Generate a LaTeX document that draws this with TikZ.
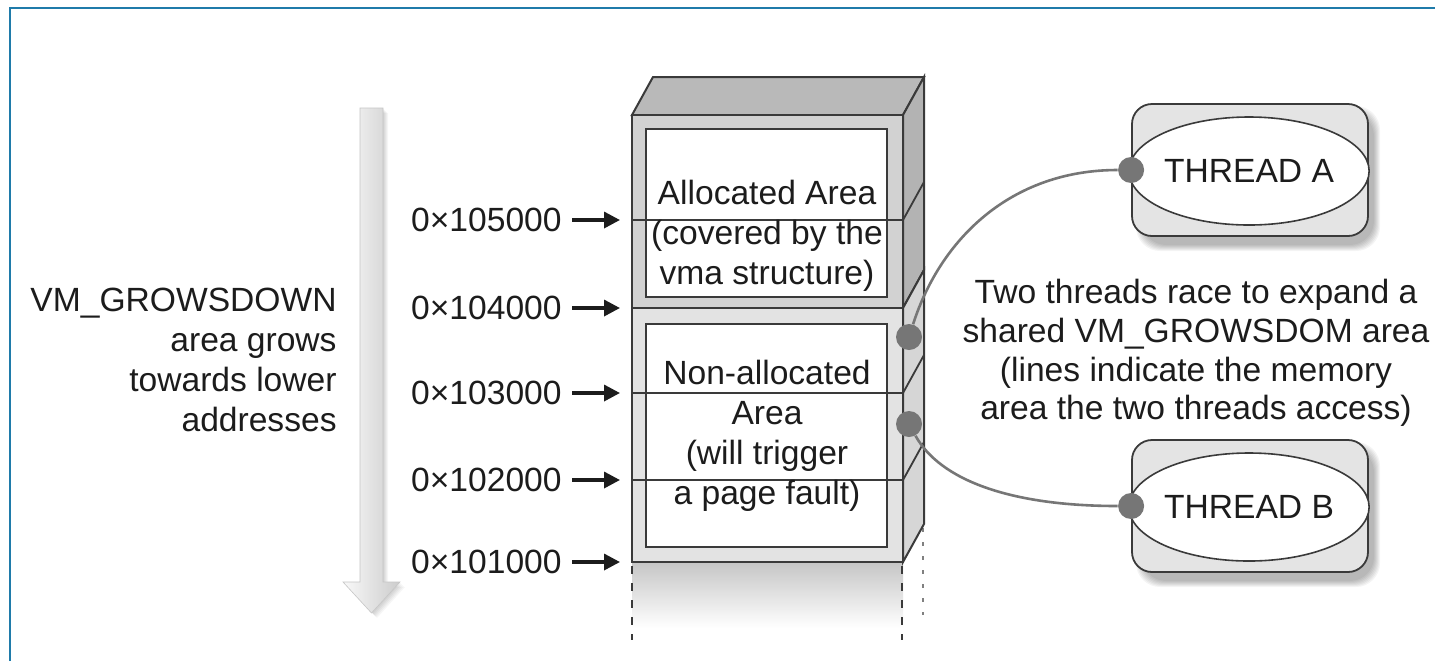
\documentclass[tikz,border=0pt]{standalone}
\usepackage{fontspec}
\setmainfont{Liberation Sans}
\usetikzlibrary{arrows.meta,shapes.geometric}
\definecolor{framebl}{HTML}{1F7BAA}
\definecolor{ink}{HTML}{1C1C1C}
\definecolor{edge}{HTML}{3A3A3A}
\definecolor{topgray}{HTML}{B9B9B9}
\definecolor{sidedark}{HTML}{B3B3B3}
\definecolor{sidelight}{HTML}{D6D6D6}
\definecolor{panelup}{HTML}{D2D2D2}
\definecolor{panellow}{HTML}{E3E3E3}
\definecolor{wire}{HTML}{767676}
\definecolor{boxfill}{HTML}{E4E4E4}
\begin{document}
\begin{tikzpicture}[x=0.5pt,y=-0.5pt,
  txt/.style={font=\fontsize{16.8}{20}\selectfont, text=ink, inner sep=0pt},
  ptr/.style={-{Triangle[length=8pt,width=8pt]}, line width=1.7pt, draw=ink,
              shorten >=6pt, shorten <=5pt},
  face/.style={draw=edge, line width=1pt},
  level/.style={draw=edge, line width=0.9pt},
  tbox/.style={rectangle, rounded corners=10pt, fill=boxfill, draw=edge,
               line width=0.9pt, minimum width=118pt, minimum height=66pt},
  oval/.style={ellipse, draw=edge, fill=white, line width=0.8pt, inner sep=0pt,
               minimum width=96pt, minimum height=54pt,
               font=\fontsize{16.8}{20}\selectfont, text=ink},
  dot/.style={circle, fill=wire, inner sep=0pt, minimum size=13pt},
  wirestyle/.style={draw=wire, line width=1.3pt}
]
\useasboundingbox (0,0) rectangle (1435,661);
\fill[white] (0,0) rectangle (1435,661);

% frame
\draw[framebl, line width=1.3pt] (10,661) -- (10,8) -- (1435,8);

% direction of growth
\foreach \s in {1,...,5}
  \fill[black, opacity=0.035] (361+\s,108+\s) -- (383+\s,108+\s) -- (383+\s,582+\s)
     -- (400+\s,582+\s) -- (372+\s,613+\s) -- (344+\s,582+\s) -- (361+\s,582+\s) -- cycle;
\shade[left color=white!95!gray, right color=gray!40, draw=gray!45, line width=0.3pt]
  (360,108) -- (383,108) -- (383,582) -- (400,582) -- (371.5,613) -- (343,582) -- (360,582) -- cycle;
\node[txt, align=right, anchor=east] (grow) at (337,360)
  {VM\_GROWSDOWN\\area grows\\towards lower\\addresses};

% fading continuation below the stack
\shade[top color=gray!45, bottom color=white] (632,562) rectangle (903,628);
\draw[edge, line width=1pt, dash pattern=on 4pt off 4.5pt] (632,566) -- (632,640);
\draw[edge, line width=1pt, dash pattern=on 4pt off 4.5pt] (902,566) -- (902,640);
\draw[gray, line width=1pt, dash pattern=on 2pt off 5pt] (923,528) -- (923,615);

% memory block
\filldraw[face, fill=topgray] (632,115) -- (653,77) -- (924,77) -- (903,115) -- cycle;
\filldraw[face, fill=sidedark] (903,115) -- (924,77) -- (924,270) -- (903,308) -- cycle;
\filldraw[face, fill=sidelight] (903,308) -- (924,270) -- (924,524) -- (903,562) -- cycle;
\filldraw[face, fill=panelup] (632,115) rectangle (903,308);
\filldraw[face, fill=panellow] (632,308) rectangle (903,562);
\filldraw[draw=edge, line width=0.8pt, fill=white] (646,129) rectangle (887,297);
\filldraw[draw=edge, line width=0.8pt, fill=white] (646,324) rectangle (887,547);
\foreach \y in {220,393,480} {
  \draw[level] (632,\y) -- (903,\y) -- (924,\y-38);
}

\node[txt, align=center] (alloc) at (767,236)
  {Allocated Area\\(covered by the\\vma structure)};
\node[txt, align=center] (nonalloc) at (767,436)
  {Non-allocated\\Area\\(will trigger\\a page fault)};

% addresses
\foreach \v/\y in {105/220,104/308,103/393,102/480,101/562} {
  \node[txt, anchor=east] (a\v) at (562,\y) {0×\v000};
  \coordinate (e\v) at (632,\y);
  \draw[ptr] (a\v) -- (e\v);
}

% soft shadows under the thread boxes
\foreach \cy in {170,506} {
  \foreach \s in {0,...,6}
    \fill[black, opacity=0.045, rounded corners=12pt]
      (1136-\s+6,\cy-66-\s+8) rectangle (1368+\s+6,\cy+67+\s+8);
}

% threads
\node[tbox] (boxA) at (1250,170) {};
\node[oval] (thA) at (1249,171) {THREAD A};
\node[tbox] (boxB) at (1250,506) {};
\node[oval] (thB) at (1249,507) {THREAD B};

\node[dot] (pA) at (boxA.west) {};
\node[dot] (pB) at (boxB.west) {};
\node[dot] (mA) at (909,337) {};
\node[dot] (mB) at (909,424) {};

\draw[wirestyle] (mA) .. controls (940,240) and (1010,170) .. (pA);
\draw[wirestyle] (mB) .. controls (940,480) and (1010,506) .. (pB);

\node[txt, align=center, font=\fontsize{16.8}{19.4}\selectfont] (note) at (1196,353)
  {Two threads race to expand a\\shared VM\_GROWSDOM area\\(lines indicate the memory\\area the two threads access)};
\end{tikzpicture}
\end{document}
